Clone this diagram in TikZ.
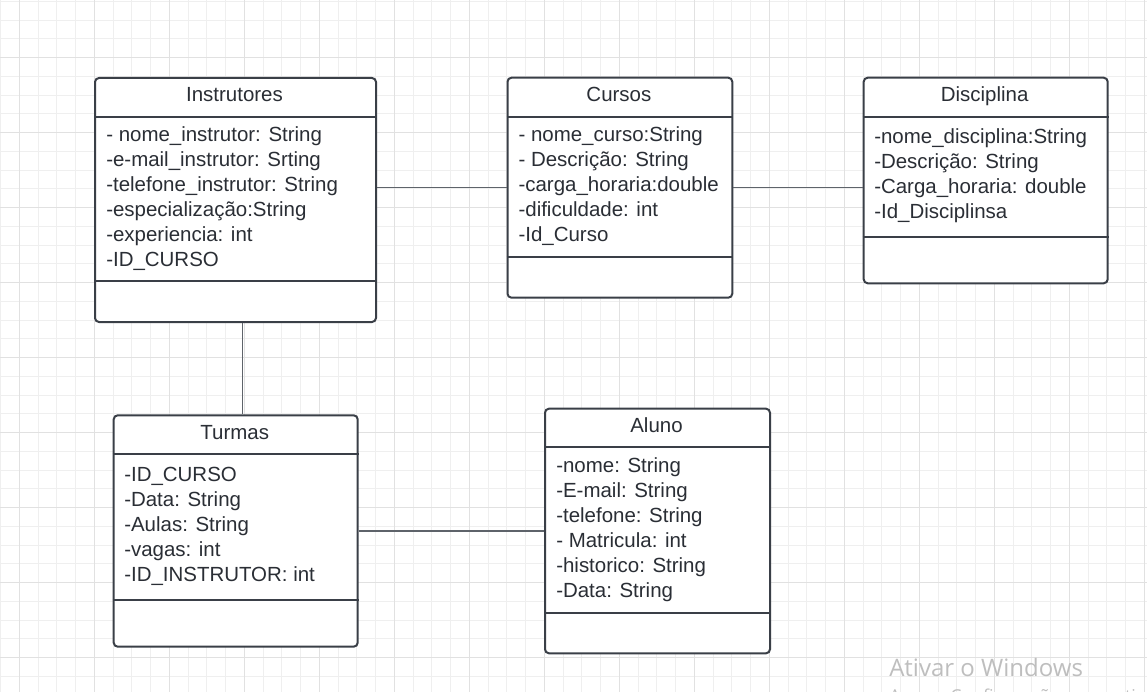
\documentclass[tikz,border=0pt]{standalone}
\usepackage{fontspec}
\setmainfont{Liberation Sans}
\newfontfamily\wmfont{Open Sans}
\definecolor{gridminor}{HTML}{EFEFEF}
\definecolor{gridmajor}{HTML}{E1E1E1}
\definecolor{boxline}{HTML}{3A3F47}
\definecolor{connline}{HTML}{5E636A}
\definecolor{txt}{HTML}{2A2E35}
\definecolor{wmcol}{HTML}{BEBEBE}
\begin{document}
\begin{tikzpicture}[x=0.75pt,y=-0.75pt,
  umlbox/.style={draw=boxline,line width=1.5pt,rounded corners=3pt,fill=white,inner sep=0pt,anchor=north west},
  divider/.style={draw=boxline,line width=1.5pt},
  conn/.style={draw=connline,line width=1.1pt},
  umltitle/.style={anchor=base,inner sep=0pt,text=txt,font=\fontsize{15.35pt}{18pt}\selectfont},
  attr/.style={anchor=base west,inner sep=0pt,text=txt,font=\fontsize{15.35pt}{18pt}\selectfont},
  wmtext/.style={anchor=base west,inner sep=0pt,text=wmcol}]
\useasboundingbox (0,0) rectangle (1147,692);
\fill[white] (0,0) rectangle (1147,692);
% grid
\foreach \k in {0,...,61}{\pgfmathsetmacro\gx{0.5+18.75*\k}\draw[gridminor,line width=0.75pt] (\gx,0) -- (\gx,692);}
\foreach \k in {0,...,36}{\pgfmathsetmacro\gy{1.3+18.75*\k}\draw[gridminor,line width=0.75pt] (0,\gy) -- (1147,\gy);}
\foreach \k in {1,5,...,61}{\pgfmathsetmacro\gx{0.5+18.75*\k}\draw[gridmajor,line width=0.75pt] (\gx,0) -- (\gx,692);}
\foreach \k in {3,7,...,35}{\pgfmathsetmacro\gy{1.3+18.75*\k}\draw[gridmajor,line width=0.75pt] (0,\gy) -- (1147,\gy);}

% boxes
\node[umlbox,minimum width=210.75pt,minimum height=183pt] (inst) at (94,77) {};
\node[umlbox,minimum width=168.6pt,minimum height=165pt] (curs) at (506.5,76.7) {};
\node[umlbox,minimum width=183pt,minimum height=154.2pt] (disc) at (862.7,76.7) {};
\node[umlbox,minimum width=183pt,minimum height=173.55pt] (turm) at (112.7,414.3) {};
\node[umlbox,minimum width=168.75pt,minimum height=183.45pt] (alun) at (544,407.7) {};

% dividers
\draw[divider] ([yshift=-30pt]inst.north west) -- ([yshift=-30pt]inst.north east);
\draw[divider] ([yshift=-153pt]inst.north west) -- ([yshift=-153pt]inst.north east);
\draw[divider] ([yshift=-30pt]curs.north west) -- ([yshift=-30pt]curs.north east);
\draw[divider] ([yshift=-135pt]curs.north west) -- ([yshift=-135pt]curs.north east);
\draw[divider] ([yshift=-30pt]disc.north west) -- ([yshift=-30pt]disc.north east);
\draw[divider] ([yshift=-120.45pt]disc.north west) -- ([yshift=-120.45pt]disc.north east);
\draw[divider] ([yshift=-30pt]turm.north west) -- ([yshift=-30pt]turm.north east);
\draw[divider] ([yshift=-139.05pt]turm.north west) -- ([yshift=-139.05pt]turm.north east);
\draw[divider] ([yshift=-29.7pt]alun.north west) -- ([yshift=-29.7pt]alun.north east);
\draw[divider] ([yshift=-153.75pt]alun.north west) -- ([yshift=-153.75pt]alun.north east);

% titles
\node[umltitle] (inst-t) at (234.5,101.3) {Instrutores};
\node[umltitle] (curs-t) at (618.9,101.3) {Cursos};
\node[umltitle] (disc-t) at (984.7,101.7) {Disciplina};
\node[umltitle] (turm-t) at (234.7,439) {Turmas};
\node[umltitle] (alun-t) at (656.5,432.3) {Aluno};

% attributes
\foreach \t [count=\i] in {- nome\_instrutor: String,-e-mail\_instrutor: Srting,-telefone\_instrutor: String,-especialização:String,-experiencia: int,-ID\_CURSO}
  \node[attr] (inst-a\i) at (106,{141.7+24.9*(\i-1)}) {\t};
\foreach \t [count=\i] in {- nome\_curso:String,- Descrição: String,-carga\_horaria:double,-dificuldade: int,-Id\_Curso}
  \node[attr] (curs-a\i) at (518.3,{141.7+24.9*(\i-1)}) {\t};
\foreach \t [count=\i] in {-nome\_disciplina:String,-Descrição: String,-Carga\_horaria: double,-Id\_Disciplinsa}
  \node[attr] (disc-a\i) at (874,{144+25*(\i-1)}) {\t};
\foreach \t [count=\i] in {-ID\_CURSO,-Data: String,-Aulas: String,-vagas: int,-ID\_INSTRUTOR: int}
  \node[attr] (turm-a\i) at (124,{481.7+25*(\i-1)}) {\t};
\foreach \t [count=\i] in {-nome: String,-E-mail: String,-telefone: String,- Matricula: int,-historico: String,-Data: String}
  \node[attr] (alun-a\i) at (556,{472.3+25*(\i-1)}) {\t};

% connectors
\draw[conn] (inst.east |- curs.west) -- (curs.west);
\draw[conn] (curs.east) -- (disc.west |- curs.east);
\coordinate (vtop) at ([xshift=5.25pt]inst.south);
\draw[conn] (vtop) -- (vtop |- turm.north);
\draw[conn] (turm.east) -- (turm.east -| alun.west);

% watermark
\node[wmtext,font=\wmfont\fontsize{18pt}{20pt}\selectfont] (wm1) at (889,676) {Ativar o Windows};
\begin{scope}
\clip (0,0) rectangle (1147,692);
\node[wmtext,font=\wmfont\fontsize{13.3pt}{15pt}\selectfont] (wm2) at (889,702) {Acesse Configurações para ativar o Windows.};
\end{scope}
\end{tikzpicture}
\end{document}
